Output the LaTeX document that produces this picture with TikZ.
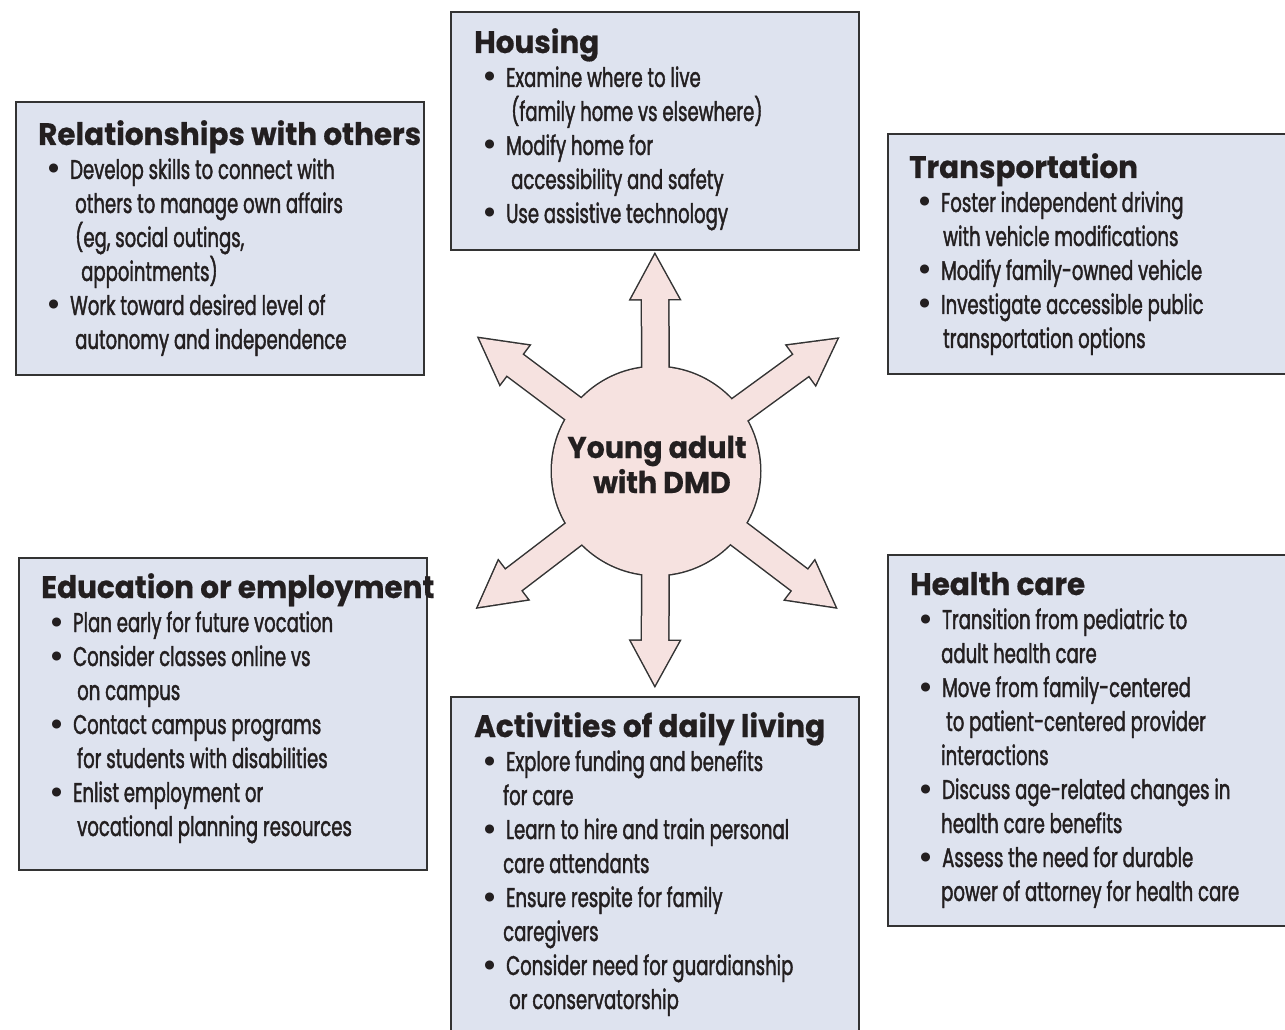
\documentclass[tikz,border=0pt]{standalone}
\usepackage{fontspec}
\newfontfamily\bodyfont{Poppins}[FakeStretch=0.67, FakeBold=1.5]
\newfontfamily\headfont{Poppins}[FakeStretch=0.95, FakeBold=0.5]
\newfontfamily\bulfont{Poppins}
\definecolor{boxfill}{HTML}{DEE3EF}
\definecolor{hubfill}{HTML}{F6E2E0}
\definecolor{ink}{HTML}{231F20}
\definecolor{edge}{HTML}{333333}
\newcommand\bl[1]{\hspace*{8pt}\makebox[24pt][l]{\bulfont\bfseries\fontsize{30}{34}\selectfont\textbullet}#1}
\newcommand\cl[2]{\hspace*{#1pt}#2}
\newcommand\hd[1]{{\headfont\bfseries\fontsize{31}{34}\selectfont #1}}
\tikzset{
  panel/.style={draw=edge, line width=1.6pt, fill=boxfill, inner sep=0pt, anchor=north west},
  paneltext/.style={anchor=base west, inner sep=0pt, text=ink, font=\bodyfont\fontsize{27}{34}\selectfont},
  hubtext/.style={anchor=base, inner sep=0pt, text=ink, font=\headfont\bfseries\fontsize{30}{34}\selectfont},
  arrowshape/.style={draw=edge, line width=3pt, line join=miter},
}
\newcommand\arrowpath[1]{(0,13) -- ({#1-44},13) -- ({#1-44},24) -- (#1,0) -- ({#1-44},-24) -- ({#1-44},-13) -- (0,-13) -- cycle}
\begin{document}
\begin{tikzpicture}[x=1pt,y=-1pt]
\useasboundingbox (0,0) rectangle (1285,1030);
\fill[white] (0,0) rectangle (1285,1030);
% panels
\node[panel, minimum width=408pt, minimum height=238pt] (housing) at (450,11) {};
\node[panel, minimum width=408pt, minimum height=273pt] (relations) at (15,101) {};
\node[panel, minimum width=410pt, minimum height=240pt] (transport) at (887,133) {};
\node[panel, minimum width=408pt, minimum height=312pt] (education) at (18,557) {};
\node[panel, minimum width=410pt, minimum height=371pt] (health) at (887,554) {};
\node[panel, minimum width=408pt, minimum height=345pt] (adl) at (450,696) {};
% arrows: outline pass
\foreach \ang/\len in {90.3/216, 143.1/221, 36.1/224, 217.4/224, -37.2/225, -90.3/214}{
  \begin{scope}[shift={(656,471)}, rotate=\ang]
    \draw[arrowshape] \arrowpath{\len};
  \end{scope}
}
\node[circle, draw=edge, line width=3pt, fill=hubfill, minimum size=208pt, inner sep=0pt] (hub) at (656,471) {};
% arrows: fill pass
\foreach \ang/\len in {90.3/216, 143.1/221, 36.1/224, 217.4/224, -37.2/225, -90.3/214}{
  \begin{scope}[shift={(656,471)}, rotate=\ang]
    \fill[hubfill] \arrowpath{\len};
  \end{scope}
}
\fill[hubfill] (hub.center) circle[radius=104pt];
\node[hubtext] (hubA) at (657,458) {Young adult};
\node[hubtext] (hubB) at (662,493) {with DMD};
% texts
\node[paneltext] (housingtxt) at (474,53) {\parbox[t]{400pt}{\hd{Housing}\\
\bl{Examine where to live}\\
\cl{37}{(family home vs elsewhere)}\\
\bl{Modify home for}\\
\cl{37}{accessibility and safety}\\
\bl{Use assistive technology}}};
\node[paneltext] (relationstxt) at (38,145) {\parbox[t]{400pt}{\hd{Relationships with others}\\
\bl{Develop skills to connect with}\\
\cl{37}{others to manage own affairs}\\
\cl{37}{(eg, social outings,}\\
\cl{43}{appointments)}\\
\bl{Work toward desired level of}\\
\cl{37}{autonomy and independence}}};
\node[paneltext] (transporttxt) at (909,178) {\parbox[t]{400pt}{\hd{Transportation}\\
\bl{Foster independent driving}\\
\cl{34}{with vehicle modifications}\\
\bl{Modify family-owned vehicle}\\
\bl{Investigate accessible public}\\
\cl{34}{transportation options}}};
\node[paneltext] (educationtxt) at (41,598) {\parbox[t]{400pt}{\hd{Education or employment}\\
\bl{Plan early for future vocation}\\
\bl{Consider classes online vs}\\
\cl{36}{on campus}\\
\bl{Contact campus programs}\\
\cl{36}{for students with disabilities}\\
\bl{Enlist employment or}\\
\cl{36}{vocational planning resources}}};
\node[paneltext] (healthtxt) at (910,595) {\parbox[t]{400pt}{\hd{Health care}\\
\bl{Transition from pediatric to}\\
\cl{31}{adult health care}\\
\bl{Move from family-centered}\\
\cl{36}{to patient-centered provider}\\
\cl{31}{interactions}\\
\bl{Discuss age-related changes in}\\
\cl{31}{health care benefits}\\
\bl{Assess the need for durable}\\
\cl{31}{power of attorney for health care}}};
\node[paneltext] (adltxt) at (474,737) {\parbox[t]{400pt}{\hd{Activities of daily living}\\
\bl{Explore funding and benefits}\\
\cl{29}{for care}\\
\bl{Learn to hire and train personal}\\
\cl{29}{care attendants}\\
\bl{Ensure respite for family}\\
\cl{29}{caregivers}\\
\bl{Consider need for guardianship}\\
\cl{35}{or conservatorship}}};
\end{tikzpicture}
\end{document}
